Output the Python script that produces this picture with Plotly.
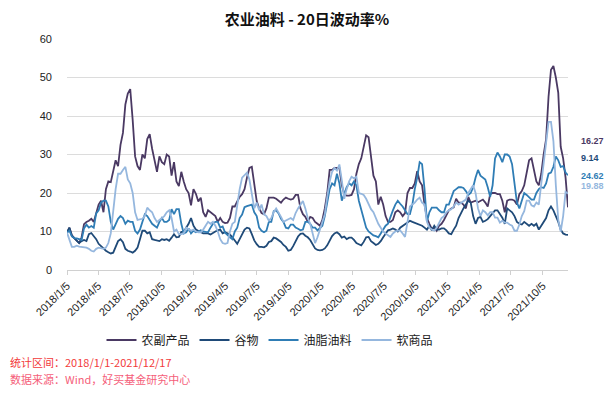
import pandas as pd
import plotly.graph_objects as go

# weekly observation dates (Fridays) 2018-01-05 .. 2021-12-17
dates = pd.date_range("2018-01-05", periods=207, freq="7D")

series_names = ["农副产品", "谷物", "油脂油料", "软商品"]

agri_products = [
    9.7, 11, 9, 8.2, 7.6, 7, 8.5, 11.9, 12.5, 12.8, 13.3, 12.5, 15, 17, 18, 15, 21, 23, 22.8, 26,
    28.5, 27, 32.5, 35.6, 43, 45.8, 47, 39, 29.5, 27, 26, 30, 29, 34, 35.3, 31.5, 28.5, 25.5, 29.5, 28,
    27.5, 30, 29.5, 24.5, 28, 23, 21.8, 25.5, 23, 21, 20, 16.8, 21, 19.8, 17.8, 18.8, 15, 13.8, 15.5, 15,
    14.5, 14, 12.5, 13.5, 12.5, 12.2, 12.3, 13.5, 16.5,
    16.5, 17.8, 19, 19.7, 21, 24, 26.5, 26.8, 22, 17.9, 16, 14.8, 14.5, 16, 18.8, 18.8, 18.8, 18.5, 18, 17.5,
    18.3, 18.8, 18.5, 18.3, 18.5, 19.5, 19.5, 16, 14.5, 13.8, 12.5, 13.8, 13.5, 12.5, 12, 11.5, 13, 16, 20, 26,
    26, 26.5, 26.5, 26.5, 22, 19.7, 19.3, 19.3, 19.5, 21, 25, 27.5, 29, 32, 35, 34.5, 29, 24.5, 23, 17,
    19, 17, 14, 12.5, 12.5, 13, 15, 15.5,
    15, 14, 14.8, 20, 21.3, 21.3, 22.5, 25.7, 23, 22, 17, 13.5, 12, 10.7, 11, 10.2, 11.5, 12, 13, 14.5,
    15.5, 16, 16.3, 18.5, 17.5, 17.5, 17, 16, 19, 17.5, 17.8, 18, 17.6, 18, 18.3, 17.5, 16.5, 19.7, 20, 20,
    19.7, 19.7, 18, 15, 18, 18.3, 18.3, 18, 17, 19.7, 20.5, 22, 25, 28.5, 29, 26, 23, 22, 25, 30,
    34, 45, 52, 53, 50, 46, 32, 29, 24, 16.27,
]

grains = [
    9.7, 11, 8.9, 8.2, 7.5, 7, 7.5, 7.8, 7.5, 9.3, 9.6, 8.8, 8, 6.8, 6.2, 5.5, 5, 4.6, 4.3, 4.5,
    6.2, 7.5, 8, 7.2, 5.5, 5, 4.8, 4.5, 5, 5.8, 8, 10.2, 10.2, 9.5, 9.8, 8, 7.8, 7.6, 7.5, 8,
    7.8, 8, 7.6, 8.4, 9.3, 8.5, 8.6, 9.9, 9.9, 11, 12, 13.5, 11.5, 10.5, 10.2, 9.8, 9.5, 9.5, 9.5, 9.2,
    9.7, 10, 10.3, 10.5, 9.5, 9.8, 9.5, 9.2, 8.5,
    7.6, 6.8, 8, 9.5, 10.5, 11, 10.8, 9.3, 7.7, 6.7, 6, 6, 5.9, 6.3, 7.3, 7.5, 8.4, 8.2, 7.7, 7.3,
    6.5, 6, 5, 5.2, 6.2, 7.5, 8.7, 9.4, 9.5, 8.9, 8.5, 7.8, 6.5, 5.6, 5.2, 5.1, 5.2, 5.6, 6.4, 7.6,
    8.8, 9.5, 9.8, 9.3, 8.4, 8.7, 8, 8.4, 8.4, 7.8, 7, 6.7, 6.4, 7.3, 8.5, 8.6, 7.5, 7, 6.5, 6.8,
    7.5, 8.5, 9.5, 10.3, 10.5, 10.8, 10.5, 10,
    11, 11.5, 12, 12.5, 12.8, 12.5, 12.3, 12, 11.8, 11.5, 11, 10.5, 11.5, 10.3, 11.5, 10.5, 10.5, 10.8, 10.8, 10.3,
    9.5, 9.3, 10.5, 11.5, 13.5, 15, 16, 17, 18, 17.5, 14, 12, 13.5, 13.8, 12.5, 12.8, 13.2, 14, 14.8, 15.5,
    15.5, 14.5, 13.6, 12, 16, 15.5, 15, 14, 12.5, 12, 11.8, 12.5, 12, 11.5, 12, 11.5, 12, 10.5, 11.5, 12.5,
    13.5, 15.5, 16.5, 15.5, 14, 12.5, 10.5, 9.5, 9.2, 9.14,
]

oilseeds = [
    9.7, 10.2, 8.7, 8.3, 8.2, 8, 7.8, 10.8, 11.8, 11, 11.4, 11, 14.7, 15.5, 17.5, 18, 18, 16.5, 12.5, 10.5,
    12, 13.3, 14, 13.5, 12, 12.8, 12.5, 12.5, 10.2, 9.5, 10.5, 12.8, 14.5, 14, 13, 12, 11.5, 11, 12.5, 13.5,
    12.5, 12.5, 13, 15.8, 14.5, 15.8, 15.8, 12, 9.5, 9.8, 10.8, 9.5, 10.2, 9.8, 10, 10.3, 10, 9.8, 9.8, 11,
    12, 12.5, 12.5, 11, 11.3, 9.7, 9, 8.5, 8,
    10, 11, 13.5, 14.4, 16.3, 16.6, 16.8, 17, 15, 14, 11, 10.2, 9.8, 10.2, 12.5, 12.5, 15.3, 15.5, 14.7, 13.3,
    12.5, 11, 10.8, 11.8, 11.8, 11, 10.7, 10.3, 10.5, 12.5, 12.5, 12, 11, 11, 10.3, 11, 11.5, 14, 17.5, 21,
    22.5, 22, 25, 22.5, 18, 20, 21.5, 22.5, 22, 23, 22, 18, 15.5, 13, 11, 10, 9.5, 9, 8.8, 8.5,
    9.5, 10.5, 11.5, 12, 14, 15.5, 17, 18,
    17.2, 16.5, 15.5, 14.5, 14.5, 17, 21, 24, 28, 27.5, 21, 12.5, 15, 16.2, 16.2, 16.2, 15.5, 15, 15, 17,
    17, 19, 20.5, 21, 21.5, 21.5, 21.3, 20.5, 19.5, 20, 21.5, 24, 26, 24.5, 24, 23.5, 21.5, 19, 22, 29,
    30.5, 29.5, 28, 30, 30, 29.5, 27.5, 22, 17.5, 16, 18, 20, 19.5, 19, 18.3, 18.3, 20, 21, 21.5, 21.3,
    22.5, 25, 25.3, 26.8, 29.5, 28.5, 26.8, 27, 25.3, 24.62,
]

softs = [
    9.7, 8, 6, 6, 6.3, 6.1, 6, 6, 5.8, 5.5, 5, 4.8, 5.5, 5.8, 5.6, 5.5, 5.8, 7, 9.5, 16,
    21, 25, 25, 26, 26.8, 23.5, 22.5, 20, 15, 13, 13.2, 13.3, 14, 16.2, 15.5, 15, 13.5, 12.5, 13, 13.5,
    14, 15, 15.5, 13.5, 10, 10.5, 9.3, 9.3, 9.5, 11, 10.5, 10.2, 10.5, 10, 9.8, 9.8, 10.5, 11.5, 12.5, 12,
    12.5, 11.5, 10, 8, 7, 6.8, 7, 10, 12,
    12.5, 17, 21, 24, 24.8, 25.3, 23.5, 19.5, 16, 17.5, 15.5, 17, 14.5, 14, 12.8, 13.5, 15, 16, 15, 13.8,
    12.5, 12.8, 13, 13.5, 13, 14.8, 16, 17, 17.9, 16, 13.5, 12, 9.5, 7, 8.5, 10.5, 12, 14.5, 19, 23,
    25.5, 26.5, 25.8, 27.4, 23.3, 18.5, 21, 23, 24.2, 23.8, 24.2, 20, 19.8, 19.5, 18.5, 17, 15.8, 15, 13.5, 12,
    11, 10, 9.5, 9, 8.6, 9.5, 10, 10.2,
    10.3, 9.5, 8.6, 12.5, 16.5, 17, 17.5, 18.3, 18.8, 17.5, 17, 12.5, 11, 10.5, 10.2, 11, 12.5, 13.5, 14, 15,
    15.5, 15.8, 16.5, 17.5, 17, 17.5, 18, 18.3, 20, 21, 22, 20, 16, 14, 15.5, 15, 14.2, 15, 15, 13.6,
    13.6, 12.3, 12.8, 12.3, 12.3, 11.8, 11.5, 10.2, 10.2, 11.8, 14, 15.3, 18, 18, 16.8, 16.5, 17.5, 17, 22, 28,
    33, 38.5, 38.5, 33.5, 22, 13, 10, 14, 20.3, 19.88,
]

last_labels = ["16.27", "9.14", "24.62", "19.88"]
label_y = [33.5, 29.1, 24.4, 21.8]

tick_dates = ["2018-01-05", "2018-04-05", "2018-07-05", "2018-10-05",
              "2019-01-05", "2019-04-05", "2019-07-05", "2019-10-05",
              "2020-01-05", "2020-04-05", "2020-07-05", "2020-10-05",
              "2021-01-05", "2021-04-05", "2021-07-05", "2021-10-05"]
tick_text = ["2018/1/5", "2018/4/5", "2018/7/5", "2018/10/5",
             "2019/1/5", "2019/4/5", "2019/7/5", "2019/10/5",
             "2020/1/5", "2020/4/5", "2020/7/5", "2020/10/5",
             "2021/1/5", "2021/4/5", "2021/7/5", "2021/10/5"]

colors = ["#4a3963", "#1f4a78", "#2f7db5", "#95b7de"]
all_series = [agri_products, grains, oilseeds, softs]
for s in all_series:
    assert len(s) == len(dates), len(s)

CJK = "Noto Sans CJK SC"
# page body has an 8px default margin; keep the figure inside the 615x395 window
W, H = 599, 379
ML, MT = 59, 31
PW, PH = 501, 231
MR = W - ML - PW
MB = H - MT - PH


def px_x(page_x):
    return (page_x - 8 - ML) / PW


def px_y(page_y):
    return (H - MB - (page_y - 8)) / PH


fig = go.Figure()
for name, vals, col in zip(series_names, all_series, colors):
    fig.add_trace(go.Scatter(x=dates, y=vals, name=name, mode="lines",
                             line=dict(color=col, width=1.8)))

for txt, yv, col in zip(last_labels, label_y, colors):
    fig.add_annotation(x=px_x(579), xref="paper", y=yv, yref="y", text="<b>%s</b>" % txt,
                       showarrow=False, xanchor="left", yanchor="middle",
                       font=dict(family="Liberation Sans", size=9, color=col))

fig.add_annotation(x=px_x(8), xref="paper", y=px_y(362), yref="paper",
                   text="统计区间：2018/1/1-2021/12/17", showarrow=False,
                   xanchor="left", yanchor="middle",
                   font=dict(family=CJK, size=11, color="#f23a3a"))
fig.add_annotation(x=px_x(8), xref="paper", y=px_y(379), yref="paper",
                   text="数据来源：Wind，好买基金研究中心", showarrow=False,
                   xanchor="left", yanchor="middle",
                   font=dict(family=CJK, size=11, color="#f5607a"))

fig.update_layout(
    width=W, height=H,
    margin=dict(l=ML, r=MR, t=MT, b=MB),
    paper_bgcolor="white", plot_bgcolor="white",
    title=dict(text="<b>农业油料 - 20日波动率%</b>", x=(307 - 8) / W, xanchor="center",
               y=1 - (20 - 8) / H, yanchor="middle",
               font=dict(family=CJK, size=15, color="#111111")),
    showlegend=True,
    legend=dict(orientation="h", x=px_x(270), xanchor="center", y=px_y(340), yanchor="middle",
                font=dict(family=CJK, size=12, color="#222222"),
                itemwidth=30, tracegroupgap=0, bgcolor="rgba(0,0,0,0)"),
    xaxis=dict(type="date", range=[dates[0], dates[-1]],
               tickmode="array", tickvals=tick_dates, ticktext=tick_text,
               tickangle=-45, ticks="outside", ticklen=4, tickcolor="#d0d0d0",
               showline=True, linecolor="#d0d0d0", linewidth=1,
               showgrid=False, zeroline=False,
               tickfont=dict(family="Liberation Sans", size=11, color="#222222")),
    yaxis=dict(range=[0, 60], tickvals=[0, 10, 20, 30, 40, 50, 60],
               showgrid=True, gridcolor="#dcdcdc", gridwidth=1.2,
               zeroline=False, showline=False, ticks="", ticklabelstandoff=14,
               tickfont=dict(family="Liberation Sans", size=11, color="#222222")),
)

fig.write_html("out.html")
